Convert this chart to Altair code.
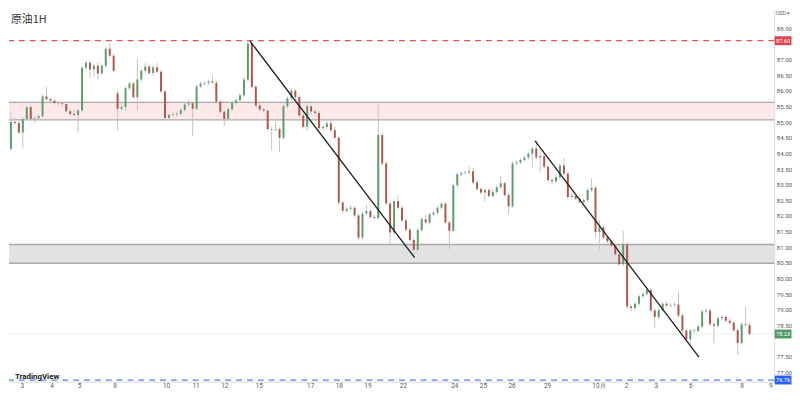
import altair as alt
import pandas as pd

# ---------------- data ----------------
opens = [83.88, 84.00, 84.15, 85.00, 84.97, 84.67, 85.10, 85.48, 85.10, 85.12,
         85.19, 85.82, 85.73, 85.68, 85.61, 85.60, 85.58, 85.35, 85.26, 85.23,
         85.37, 86.74, 86.90, 86.68, 86.80, 86.55, 86.80, 87.34, 87.12, 85.92,
         85.43, 85.48, 86.08, 86.23, 85.79, 86.36, 86.64, 86.78, 86.57, 86.75,
         86.61, 85.98, 85.13, 85.23, 85.24, 85.27, 85.39, 85.56, 85.60, 85.43,
         86.14, 86.23, 86.25, 86.30, 86.26, 85.65, 85.33, 85.10, 85.41, 85.62,
         85.70, 85.86, 86.36, 87.50, 86.13, 85.53, 85.40, 85.36, 84.78, 84.76,
         84.78, 84.50, 85.51, 85.76, 86.00, 85.80, 85.21, 84.85, 85.51, 85.34,
         85.29, 84.81, 84.84, 84.96, 84.74, 84.50, 82.43, 82.17, 82.23, 82.26,
         82.02, 81.31, 82.08, 82.16, 81.97, 81.94, 84.59, 83.68, 82.40, 81.47,
         82.47, 82.26, 81.86, 81.56, 81.23, 80.92, 81.55, 81.90, 81.79, 82.05,
         82.10, 82.26, 82.39, 81.79, 81.53, 82.98, 83.33, 83.37, 83.39, 83.43,
         83.07, 82.86, 82.75, 82.83, 82.64, 82.77, 82.92, 83.05, 82.67, 82.31,
         83.68, 83.71, 83.79, 83.87, 83.99, 84.16, 83.87, 83.92, 83.57, 83.15,
         83.11, 83.24, 83.61, 83.36, 82.61, 82.64, 82.55, 82.45, 82.51, 82.83,
         82.90, 81.49, 81.64, 81.31, 81.19, 81.06, 80.78, 80.46, 81.10, 79.11,
         79.06, 79.20, 79.44, 79.51, 79.64, 78.98, 78.77, 78.99, 79.20, 79.14,
         79.16, 79.17, 78.82, 78.34, 78.06, 78.34, 78.33, 78.47, 78.95, 78.98,
         78.54, 78.49, 78.73, 78.77, 78.65, 78.59, 78.35, 77.94, 78.54, 78.52]

closes = [84.00, 84.15, 85.00, 84.97, 84.67, 85.10, 85.48, 85.10, 85.12, 85.19,
          85.82, 85.73, 85.68, 85.61, 85.60, 85.58, 85.35, 85.26, 85.23, 85.37,
          86.74, 86.90, 86.68, 86.80, 86.55, 86.80, 87.34, 87.12, 86.64, 85.43,
          85.48, 86.08, 86.23, 85.79, 86.36, 86.64, 86.78, 86.57, 86.75, 86.61,
          85.98, 85.13, 85.23, 85.24, 85.27, 85.39, 85.56, 85.60, 85.43, 86.14,
          86.23, 86.25, 86.30, 86.26, 85.65, 85.33, 85.10, 85.41, 85.62, 85.70,
          85.86, 86.36, 87.50, 86.13, 85.53, 85.40, 85.36, 84.78, 84.76, 84.78,
          84.50, 85.51, 85.76, 86.00, 85.80, 85.21, 84.85, 85.51, 85.34, 85.29,
          84.81, 84.84, 84.96, 84.74, 84.50, 82.43, 82.17, 82.23, 82.26, 82.02,
          81.31, 82.08, 82.16, 81.97, 81.94, 84.59, 83.68, 82.40, 81.47, 82.47,
          82.26, 81.86, 81.56, 81.23, 80.92, 81.55, 81.90, 81.79, 82.05, 82.10,
          82.26, 82.39, 81.79, 81.53, 82.98, 83.33, 83.37, 83.39, 83.43, 83.07,
          82.86, 82.75, 82.83, 82.64, 82.77, 82.92, 83.05, 82.67, 82.31, 83.68,
          83.71, 83.79, 83.87, 83.99, 84.16, 83.87, 83.92, 83.57, 83.15, 83.11,
          83.24, 83.61, 83.36, 82.61, 82.64, 82.55, 82.45, 82.51, 82.83, 82.90,
          81.49, 81.64, 81.31, 81.19, 81.06, 80.78, 80.46, 81.10, 79.11, 79.06,
          79.20, 79.44, 79.51, 79.64, 78.98, 78.77, 78.99, 79.20, 79.14, 79.16,
          79.17, 78.82, 78.34, 78.06, 78.34, 78.33, 78.47, 78.95, 78.98, 78.54,
          78.49, 78.73, 78.77, 78.65, 78.59, 78.35, 77.94, 78.54, 78.52, 78.23]

highs = [84.12, 84.21, 85.32, 85.16, 85.03, 85.16, 85.54, 85.54, 85.18, 85.25,
         85.88, 86.13, 85.80, 85.74, 85.67, 85.66, 85.64, 85.41, 85.41, 85.43,
         86.80, 86.96, 86.96, 86.86, 86.89, 86.86, 87.40, 87.52, 87.18, 86.00,
         85.66, 86.14, 86.29, 86.29, 87.03, 86.70, 86.89, 86.84, 86.81, 86.89,
         86.67, 86.04, 85.29, 85.32, 85.33, 85.45, 85.62, 85.73, 85.66, 86.20,
         86.29, 86.31, 86.36, 86.51, 86.32, 85.71, 85.39, 85.47, 85.68, 85.76,
         85.92, 86.42, 87.59, 87.56, 86.19, 85.59, 85.46, 85.42, 84.84, 85.00,
         84.84, 85.57, 85.82, 86.10, 86.06, 85.86, 85.27, 85.63, 85.57, 85.40,
         85.35, 84.90, 85.02, 85.03, 84.87, 84.56, 82.49, 82.29, 82.35, 82.32,
         82.08, 82.14, 82.35, 82.22, 82.03, 85.56, 84.65, 83.74, 82.46, 82.53,
         82.67, 82.32, 81.92, 81.62, 81.29, 81.61, 81.96, 82.03, 82.11, 82.16,
         82.32, 82.45, 82.45, 81.85, 83.04, 83.39, 83.43, 83.45, 83.58, 83.55,
         83.13, 82.92, 82.89, 82.89, 82.83, 82.98, 83.30, 83.11, 82.73, 83.74,
         83.77, 83.85, 83.93, 84.05, 84.22, 84.42, 84.05, 83.98, 83.63, 83.21,
         83.30, 83.67, 83.85, 83.42, 82.73, 82.70, 82.61, 82.57, 82.89, 83.20,
         82.96, 81.85, 81.70, 81.37, 81.25, 81.12, 80.84, 81.52, 81.16, 79.17,
         79.26, 79.50, 79.57, 79.73, 79.70, 79.04, 79.05, 79.26, 79.26, 79.22,
         79.26, 79.58, 78.88, 78.40, 78.40, 78.40, 78.53, 79.01, 79.04, 79.04,
         78.60, 78.79, 78.83, 78.83, 78.71, 78.65, 78.41, 78.60, 79.10, 78.58]

lows = [83.82, 83.94, 84.09, 84.91, 84.61, 84.18, 85.04, 85.04, 84.98, 85.06,
        85.13, 85.70, 85.62, 85.55, 85.54, 85.50, 85.29, 85.20, 85.17, 84.66,
        85.31, 86.68, 86.40, 86.45, 86.33, 86.49, 86.74, 87.06, 86.58, 84.72,
        85.37, 85.35, 86.02, 85.73, 85.38, 86.30, 86.58, 86.51, 86.46, 86.55,
        85.92, 85.07, 85.07, 85.17, 85.17, 85.21, 85.33, 85.50, 84.56, 85.37,
        86.08, 86.17, 86.19, 86.24, 85.59, 85.27, 84.88, 85.04, 85.35, 85.56,
        85.64, 85.80, 86.30, 86.07, 85.47, 85.34, 85.30, 84.72, 84.09, 84.70,
        84.03, 84.44, 85.45, 85.70, 85.74, 85.15, 84.79, 84.72, 85.28, 85.23,
        84.75, 84.72, 84.78, 84.68, 84.44, 82.37, 82.07, 82.11, 82.17, 81.96,
        81.25, 81.22, 82.02, 81.91, 81.88, 81.88, 83.62, 82.34, 81.09, 81.41,
        82.20, 81.80, 81.50, 81.17, 80.68, 80.86, 81.49, 81.73, 81.73, 81.99,
        82.04, 82.20, 81.73, 80.93, 81.47, 82.92, 83.27, 83.31, 83.33, 83.01,
        82.80, 82.69, 82.47, 82.58, 82.58, 82.71, 82.86, 82.61, 82.05, 82.25,
        83.62, 83.65, 83.73, 83.81, 83.55, 83.81, 83.40, 83.51, 83.09, 82.99,
        83.05, 83.18, 83.30, 82.55, 82.55, 82.49, 82.39, 82.36, 82.45, 82.77,
        81.29, 80.93, 81.25, 81.13, 81.00, 80.72, 80.40, 80.40, 79.05, 78.95,
        78.98, 79.14, 79.38, 79.45, 78.92, 78.41, 78.71, 78.93, 79.08, 79.08,
        79.08, 78.76, 78.28, 78.00, 77.88, 78.25, 78.27, 78.41, 78.89, 78.48,
        77.94, 78.43, 78.67, 78.59, 78.53, 78.29, 77.56, 77.88, 78.46, 78.17]

# x-axis date labels (bar positions -> label)
tick_idx = [4.75, 12.25, 19.25, 28.25, 41.25, 48.75, 56, 64.75, 77.75, 85, 92.25,
            101.25, 114.25, 121.5, 128.75, 137.75, 150.75, 157.75, 165.25, 174, 187, 194.25]
tick_labels = ["3", "4", "5", "8", "10", "11", "12", "15", "17", "18", "19",
               "22", "24", "25", "26", "29", "10月", "2", "3", "6", "8", "9"]

# price scale labels (those hidden behind the price tags are left out, as in the reference)
price_ticks = [77.0, 77.5, 78.5, 79.0, 79.5, 80.0, 80.5, 81.0, 81.5, 82.0, 82.5,
               83.0, 83.5, 84.0, 84.5, 85.0, 85.5, 86.0, 86.5, 87.0, 88.0]

resistance_zone = [85.07, 85.63]
support_zone = [80.49, 81.09]
top_level = 87.60
bottom_level = 76.76
last_price = 78.23

trend_id = ["a", "a", "b", "b"]
trend_idx = [62.5, 104.2, 134.7, 176.2]
trend_price = [87.59, 80.67, 84.40, 77.49]

# ---------------- chart ----------------
W, H = 775, 376
UP, DOWN, WICK = "#5a9e6e", "#b2564c", "#c4c4c4"

df = pd.DataFrame({"idx": list(range(len(opens))), "open": opens, "high": highs,
                   "low": lows, "close": closes})

xs = alt.Scale(domain=[1.5, 195.25], nice=False, zero=False)
ys = alt.Scale(domain=[76.707, 88.568], nice=False, zero=False)

label_expr = ("[" + ",".join("'%s'" % s for s in tick_labels) + "][indexof(["
              + ",".join(str(v) for v in tick_idx) + "], datum.value)]")

xaxis = alt.Axis(orient="bottom", values=tick_idx, labelExpr=label_expr, title=None,
                 grid=False, ticks=False, domainColor="#d9d9d9", labelColor="#55585f",
                 labelFontSize=6.5, labelFont="Roboto", labelPadding=1,
                 labelOverlap=False, labelFlush=False)
yaxis = alt.Axis(orient="right", values=price_ticks, format=".2f", title=None,
                 grid=False, ticks=False, domainColor="#d9d9d9", labelColor="#55585f",
                 labelFontSize=6.2, labelFont="Roboto", labelPadding=2)


def X(f):
    return alt.X(f, type="quantitative", scale=xs, axis=xaxis)


def Y(f):
    return alt.Y(f, type="quantitative", scale=ys, axis=yaxis)


def hband(lo, hi, color):
    d = pd.DataFrame({"lo": [lo], "hi": [hi]})
    return alt.Chart(d).mark_rect(color=color, opacity=1).encode(
        x=alt.value(0), x2=alt.value(W), y=Y("lo"), y2="hi")


def hline(price, color, dash=None, width=1.3):
    d = pd.DataFrame({"p": [price]})
    kw = {"color": color, "strokeWidth": width}
    if dash:
        kw["strokeDash"] = dash
    return alt.Chart(d).mark_rule(**kw).encode(y=Y("p"))


def tag(price, text, color):
    d = pd.DataFrame({"p": [price], "txt": [text]})
    box = alt.Chart(d).mark_tick(orient="horizontal", size=17, thickness=9, opacity=1,
                                 color=color).encode(x=alt.value(W + 9), y=Y("p"))
    txt = alt.Chart(d).mark_text(color="white", fontSize=5.8, font="Roboto").encode(
        x=alt.value(W + 9), y=Y("p"), text="txt:N")
    return [box, txt]


layers = [
    hband(resistance_zone[0], resistance_zone[1], "#fde9ea"),
    hband(support_zone[0], support_zone[1], "#e2e2e2"),
]
for p in resistance_zone + support_zone:
    layers.append(hline(p, "#a9a9a9", width=1.4))
layers.append(hline(top_level, "#e5535d", dash=[6, 5]))
layers.append(hline(bottom_level, "#4f84ee", dash=[6, 5]))
layers.append(hline(last_price, "#b9d7c2", dash=[1, 2], width=1))

wicks = alt.Chart(df).mark_rule(color=WICK, strokeWidth=1, clip=True).encode(
    x=X("idx"), y=Y("low"), y2="high")
up_bodies = alt.Chart(df).transform_filter("datum.close >= datum.open").mark_rule(
    color=UP, strokeWidth=2.0, clip=True).encode(x=X("idx"), y=Y("open"), y2="close")
down_bodies = alt.Chart(df).transform_filter("datum.close < datum.open").mark_rule(
    color=DOWN, strokeWidth=2.0, clip=True).encode(x=X("idx"), y=Y("open"), y2="close")
layers += [wicks, up_bodies, down_bodies]

trend_df = pd.DataFrame({"id": trend_id, "idx": trend_idx, "p": trend_price})
layers.append(alt.Chart(trend_df).mark_line(color="#1e1e1e", strokeWidth=1.3, clip=True).encode(
    x=X("idx"), y=Y("p"), detail="id:N"))

layers += tag(top_level, "87.60", "#e0424b")
layers += tag(last_price, "78.23", "#4e9a66")
layers += tag(bottom_level, "76.76", "#2962ff")

# currency selector at the top of the price scale
cur_df = pd.DataFrame({"t": ["USD ▾"]})
layers.append(alt.Chart(cur_df).mark_text(align="center", baseline="middle", fontSize=5.5,
                                          font="Roboto", color="#55585f").encode(
    x=alt.value(W + 9), y=alt.value(3), text="t:N"))

title_df = pd.DataFrame({"t": ["原油1H"]})
layers.append(alt.Chart(title_df).mark_text(align="left", baseline="middle", fontSize=11,
                                            font="Noto Sans CJK SC", color="#333333").encode(
    x=alt.value(2), y=alt.value(10), text="t:N"))

logo_df = pd.DataFrame({"t": ["TradingView"]})
layers.append(alt.Chart(logo_df).mark_text(align="left", baseline="middle", fontSize=8,
                                           fontWeight="bold", font="Roboto", color="#131722").encode(
    x=alt.value(6), y=alt.value(371), text="t:N"))

chart = alt.layer(*layers).properties(
    width=W, height=H, padding={"left": 0, "top": 0, "right": 0, "bottom": 0},
    background="white"
).configure_view(stroke=None)

chart.save("out.html", embed_options={"renderer": "svg", "actions": False})
